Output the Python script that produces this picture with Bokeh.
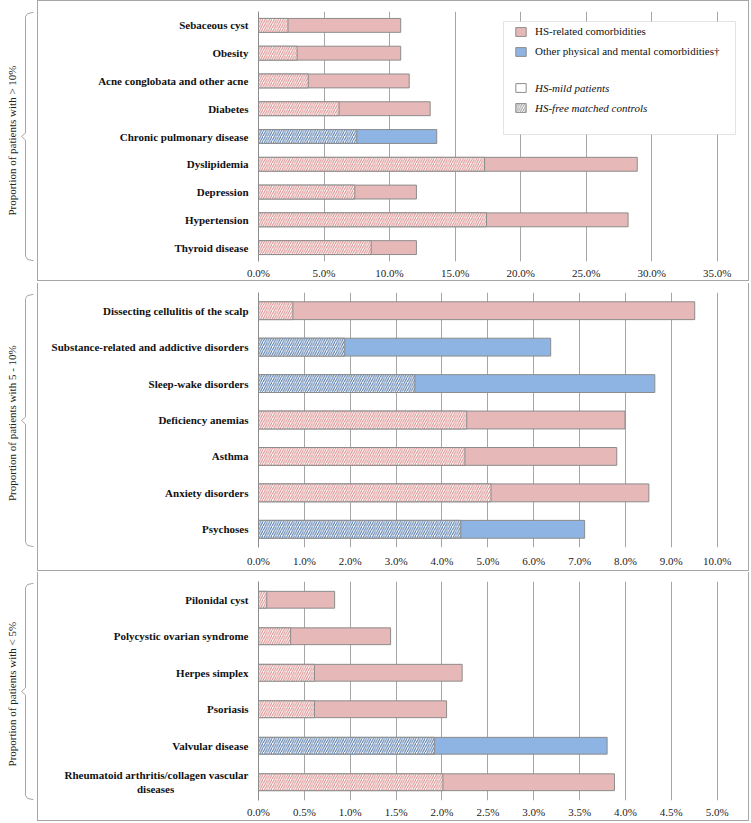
import math
from bokeh.plotting import figure
from bokeh.models import (FactorRange, Range1d, FixedTicker, PrintfTickFormatter,
                          BoxAnnotation, Legend, LegendItem, ColumnDataSource)
from bokeh.layouts import column, row
from bokeh.core.properties import value
from bokeh.embed import file_html
from bokeh.resources import INLINE

# ---------------- data ----------------
cats1 = ["Sebaceous cyst", "Obesity", "Acne conglobata and other acne", "Diabetes",
         "Chronic pulmonary disease", "Dyslipidemia", "Depression", "Hypertension",
         "Thyroid disease"]
group1 = ["HS", "HS", "HS", "HS", "Other", "HS", "HS", "HS", "HS"]
mild1 = [10.85, 10.85, 11.5, 13.1, 13.6, 28.9, 12.05, 28.2, 12.05]
ctrl1 = [2.25, 2.95, 3.8, 6.15, 7.5, 17.25, 7.35, 17.4, 8.6]
ticks1 = [0, 5, 10, 15, 20, 25, 30, 35]
title1 = "Proportion of patients with  > 10%"

cats2 = ["Dissecting cellulitis of the scalp", "Substance-related and addictive disorders",
         "Sleep-wake disorders", "Deficiency anemias", "Asthma", "Anxiety disorders",
         "Psychoses"]
group2 = ["HS", "Other", "Other", "HS", "HS", "HS", "Other"]
mild2 = [9.51, 6.37, 8.64, 7.99, 7.81, 8.51, 7.11]
ctrl2 = [0.75, 1.88, 3.41, 4.54, 4.50, 5.07, 4.41]
ticks2 = [0, 1, 2, 3, 4, 5, 6, 7, 8, 9, 10]
title2 = "Proportion of patients with 5 - 10%"

cats3 = ["Pilonidal cyst", "Polycystic ovarian syndrome", "Herpes simplex", "Psoriasis",
         "Valvular disease",
         "Rheumatoid arthritis/collagen vascular\ndiseases" + "\u00a0" * 27]
group3 = ["HS", "HS", "HS", "HS", "Other", "HS"]
mild3 = [0.83, 1.44, 2.22, 2.05, 3.80, 3.88]
ctrl3 = [0.09, 0.35, 0.61, 0.61, 1.92, 2.01]
ticks3 = [0, 0.5, 1.0, 1.5, 2.0, 2.5, 3.0, 3.5, 4.0, 4.5, 5.0]
title3 = "Proportion of patients with < 5%"

legend_groups = ["HS-related comorbidities", "Other physical and mental comorbidities\u2020"]
legend_kinds = ["HS-mild patients", "HS-free matched controls"]

# ---------------- style ----------------
PINK = "#E6B9B8"
BLUE = "#8DB4E2"
FILL = {"HS": PINK, "Other": BLUE}
HATCH = {"HS": "#D98886", "Other": "#4A72A6"}
EDGE = "#8C8C8C"
GRID = "#A6A6A6"
FRAME = "#A6A6A6"
FONT = "Liberation Serif"

DECO_W = 37
MAIN_W = 712
LEFT_B = 220
RIGHT_B = 2
FRAME_W = MAIN_W - LEFT_B - RIGHT_B
LAST_TICK_PX = 458.7


def make_deco(total_h, title):
    d = figure(width=DECO_W, height=total_h, output_backend="svg", toolbar_location=None,
               x_range=Range1d(0, DECO_W), y_range=Range1d(total_h, 0),
               min_border=0, min_border_left=0, min_border_right=0,
               min_border_top=0, min_border_bottom=0)
    d.axis.visible = False
    d.grid.visible = False
    d.outline_line_color = None
    d.background_fill_color = "white"
    d.border_fill_color = "white"
    mid = total_h / 2
    bx = [33, 27, 25, 25, 21, 25, 25, 27, 33]
    by = [2, 3.5, 7, mid - 4, mid, mid + 4, total_h - 7, total_h - 3.5, total_h - 2]
    d.line(bx, by, line_color=FRAME, line_width=1)
    d.text(x=[11], y=[mid + 3], text=[title], angle=math.pi / 2, text_align="center",
           text_baseline="middle", text_font=value(FONT), text_font_size="11px",
           text_color="#222222")
    return d


def make_panel(cats, groups, mild, ctrl, ticks, title, fig_h, top_b, bot_b,
               bar_h, standoff, first=False):
    x_end = ticks[-1] * FRAME_W / LAST_TICK_PX
    p = figure(width=MAIN_W, height=fig_h, output_backend="svg", toolbar_location=None,
               y_range=FactorRange(factors=list(reversed(cats))),
               x_range=Range1d(0, x_end),
               min_border_left=LEFT_B, min_border_right=RIGHT_B,
               min_border_top=top_b, min_border_bottom=bot_b)
    p.outline_line_color = None
    p.background_fill_color = "white"
    p.border_fill_color = "white"
    st = {"border-left": "1px solid " + FRAME, "border-right": "1px solid " + FRAME,
          "border-bottom": "1px solid " + FRAME}
    if first:
        st["border-top"] = "1px solid " + FRAME
    p.styles = st

    src = ColumnDataSource(dict(cat=cats, mild=mild, ctrl=ctrl,
                                fill=[FILL[g] for g in groups],
                                hatch=[HATCH[g] for g in groups]))
    p.hbar(y="cat", left=0, right="mild", height=bar_h, fill_color="fill",
           line_color=EDGE, line_width=1, source=src)
    p.hbar(y="cat", left=0, right="ctrl", height=bar_h, fill_color="white",
           hatch_pattern="/", hatch_color="hatch", hatch_scale=4.5, hatch_weight=1,
           line_color=EDGE, line_width=1, source=src)

    xa = p.xaxis[0]
    xa.ticker = FixedTicker(ticks=ticks)
    xa.formatter = PrintfTickFormatter(format="%.1f%%")
    xa.axis_line_color = None
    xa.major_tick_line_color = None
    xa.minor_tick_line_color = None
    xa.major_tick_out = 0
    xa.minor_tick_out = 0
    xa.major_label_text_font = FONT
    xa.major_label_text_font_size = "11px"
    xa.major_label_text_color = "#222222"
    xa.major_label_standoff = standoff

    ya = p.yaxis[0]
    ya.axis_line_color = EDGE
    ya.major_tick_line_color = None
    ya.minor_tick_line_color = None
    ya.major_tick_out = 0
    ya.minor_tick_out = 0
    ya.major_label_text_font = FONT
    ya.major_label_text_font_style = "bold"
    ya.major_label_text_font_size = "11px"
    ya.major_label_text_color = "#111111"
    ya.major_label_standoff = 10

    p.xgrid[0].ticker = FixedTicker(ticks=ticks)
    p.xgrid[0].grid_line_color = GRID
    p.ygrid[0].grid_line_color = None

    H = fig_h - top_b - bot_b

    if first:
        lbox = BoxAnnotation(left=245, right=477, top=H - 10, bottom=H - 123,
                             left_units="screen", right_units="screen",
                             top_units="screen", bottom_units="screen",
                             fill_color="white", fill_alpha=1,
                             line_color=FRAME, line_width=1)
        p.add_layout(lbox)
        y0 = [cats[0]]
        r_pink = p.hbar(y=y0, right=[0], left=[0], height=0, fill_color=PINK, line_color=EDGE)
        r_blue = p.hbar(y=y0, right=[0], left=[0], height=0, fill_color=BLUE, line_color=EDGE)
        r_mild = p.hbar(y=y0, right=[0], left=[0], height=0, fill_color="white", line_color=EDGE)
        r_ctrl = p.hbar(y=y0, right=[0], left=[0], height=0, fill_color="white",
                        hatch_pattern="/", hatch_color="#9A9A9A", hatch_scale=4.5,
                        hatch_weight=1, line_color=EDGE)
        common = dict(padding=0, margin=0, border_line_color=None, background_fill_alpha=0,
                      glyph_width=13, glyph_height=11, label_height=11, spacing=8,
                      label_standoff=8, label_text_font=FONT, label_text_font_size="11px",
                      label_text_color="#111111")
        legA = Legend(items=[LegendItem(label=legend_groups[0], renderers=[r_pink]),
                             LegendItem(label=legend_groups[1], renderers=[r_blue])],
                      location=(256, H - 46.2), **common)
        legB = Legend(items=[LegendItem(label=legend_kinds[0], renderers=[r_mild]),
                             LegendItem(label=legend_kinds[1], renderers=[r_ctrl])],
                      location=(256, H - 102.8), label_text_font_style="italic", **common)
        p.add_layout(legA)
        p.add_layout(legB)
    return p


p1 = make_panel(cats1, group1, mild1, ctrl1, ticks1, title1, 281, 10, 21, 0.5, 5, first=True)
p2 = make_panel(cats2, group2, mild2, ctrl2, ticks2, title2, 288, 9, 24, 0.49, 7)
p3 = make_panel(cats3, group3, mild3, ctrl3, ticks3, title3, 249, 9, 21, 0.46, 5)

d1 = make_deco(283, title1)
d2 = make_deco(289, title2)
d3 = make_deco(250, title3)

layout = column(row(d1, p1, spacing=0), row(d2, p2, spacing=0), row(d3, p3, spacing=0),
                spacing=0)
open("out.html", "w").write(file_html(layout, INLINE))
